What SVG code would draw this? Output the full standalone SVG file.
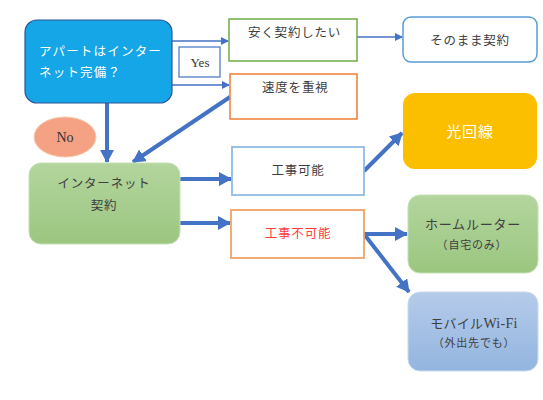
<svg xmlns="http://www.w3.org/2000/svg" width="543" height="400" viewBox="0 0 543 400">
<style>
.jp{font-family:"Noto Sans CJK JP","Noto Sans",sans-serif;fill:#404040;font-size:12.5px;letter-spacing:0.8px}
.ser{font-family:"Liberation Serif",serif;fill:#333}
.c{text-anchor:middle}
.thin{stroke:#4472c4;stroke-width:1.5;fill:none}
.thick{stroke:#4472c4;stroke-width:4;fill:none}
</style>
<defs>
<linearGradient id="gG" x1="0" y1="0" x2="0" y2="1"><stop offset="0" stop-color="#b3d59e"/><stop offset="1" stop-color="#9bc67f"/></linearGradient>
<linearGradient id="gB" x1="0" y1="0" x2="0" y2="1"><stop offset="0" stop-color="#b5cbea"/><stop offset="1" stop-color="#93b5df"/></linearGradient>
<marker id="aS" markerWidth="8" markerHeight="8" refX="7" refY="4" orient="auto" markerUnits="userSpaceOnUse"><path d="M0,0 L8,4 L0,8 z" fill="#4472c4"/></marker>
<marker id="aL" markerWidth="14" markerHeight="14" refX="12" refY="7" orient="auto" markerUnits="userSpaceOnUse"><path d="M0,0 L13,7 L0,14 z" fill="#4472c4"/></marker>
</defs>
<rect width="543" height="400" fill="#fff"/>
<g id="connectors">
<line class="thin" x1="172" y1="41" x2="228" y2="41" marker-end="url(#aS)"/>
<line class="thin" x1="172" y1="85" x2="229" y2="85" marker-end="url(#aS)"/>
<line class="thin" x1="357" y1="37" x2="402" y2="37" marker-end="url(#aS)"/>
<line class="thick" x1="107" y1="103" x2="107" y2="162" marker-end="url(#aL)"/>
<line class="thick" x1="230" y1="97" x2="133" y2="162" marker-end="url(#aL)"/>
<line class="thick" x1="180" y1="179" x2="231" y2="179" marker-end="url(#aL)"/>
<line class="thick" x1="179" y1="223" x2="230" y2="223" marker-end="url(#aL)"/>
<line class="thick" x1="364" y1="171" x2="402" y2="133" marker-end="url(#aL)"/>
<line class="thick" x1="364" y1="234" x2="407" y2="234" marker-end="url(#aL)"/>
<line class="thick" x1="364" y1="234" x2="409" y2="292" marker-end="url(#aL)"/>
</g>
<g id="apart">
<rect x="25" y="20" width="147" height="83" rx="12" fill="#14a6e6" stroke="#2f5597" stroke-width="1.2"/>
<text class="jp" x="39" y="56" style="fill:#fff;letter-spacing:1.2px">アパートはインター</text>
<text class="jp" x="39" y="77" style="fill:#fff;letter-spacing:1.2px">ネット完備？</text>
</g>
<g id="yes">
<rect x="179" y="47" width="41" height="30" fill="#fff" stroke="#4472c4" stroke-width="1.2"/>
<text class="ser c" x="200" y="67" font-size="13">Yes</text>
</g>
<g id="no">
<ellipse cx="65" cy="137" rx="31" ry="20" fill="#f4a283" stroke="#f8cbad"/>
<text class="ser c" x="65" y="142" font-size="14">No</text>
</g>
<g id="yasuku">
<rect x="229" y="19" width="128" height="42" fill="#fff" stroke="#70ad47" stroke-width="1.5"/>
<text class="jp" x="248" y="37">安く契約したい</text>
</g>
<g id="sokudo">
<rect x="230" y="74" width="127" height="45" fill="#fff" stroke="#ed7d31" stroke-width="1.5"/>
<text class="jp" x="262" y="92">速度を重視</text>
</g>
<g id="sonomama">
<rect x="403" y="17" width="134" height="45" rx="8" fill="#fff" stroke="#5b9bd5" stroke-width="1.5"/>
<text class="jp c" x="470" y="45">そのまま契約</text>
</g>
<g id="hikari">
<rect x="403" y="93" width="134" height="76" rx="12" fill="#fcbf00"/>
<text class="jp c" x="470" y="137" style="fill:#fff;font-size:15px">光回線</text>
</g>
<g id="koujikanou">
<rect x="232" y="147" width="132" height="48" fill="#fff" stroke="#8fbbe6" stroke-width="1.8"/>
<text class="jp c" x="298" y="175">工事可能</text>
</g>
<g id="koujifuka">
<rect x="231" y="210" width="133" height="48" fill="#fff" stroke="#f2a266" stroke-width="1.8"/>
<text class="jp c" x="298" y="238" style="fill:#ff3b3b">工事不可能</text>
</g>
<g id="internet">
<rect x="29" y="163" width="151" height="81" rx="12" fill="url(#gG)" stroke="#c5e0b4"/>
<text class="jp c" x="104" y="188">インターネット</text>
<text class="jp c" x="104" y="210">契約</text>
</g>
<g id="homerouter">
<rect x="408" y="195" width="130" height="78" rx="12" fill="url(#gG)" stroke="#c5e0b4"/>
<text class="jp c" x="473" y="229" style="font-size:13px">ホームルーター</text>
<text class="jp c" x="472" y="249" style="font-size:11px">（自宅のみ）</text>
</g>
<g id="mobile">
<rect x="408" y="292" width="130" height="79" rx="12" fill="url(#gB)" stroke="#c9daef"/>
<text class="jp c" x="474" y="328" style="font-size:13px;letter-spacing:0.3px">モバイル<tspan style="font-family:'Liberation Serif',serif;font-size:14px">Wi-Fi</tspan></text>
<text class="jp c" x="474" y="347" style="font-size:11px">（外出先でも）</text>
</g>
</svg>
